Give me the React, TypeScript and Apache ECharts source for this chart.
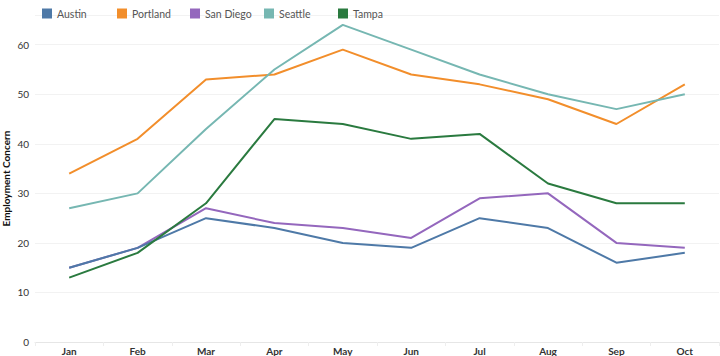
import React, { useEffect, useRef } from "react";
import * as echarts from "echarts";

const months = ["Jan", "Feb", "Mar", "Apr", "May", "Jun", "Jul", "Aug", "Sep", "Oct"];
const cities = ["Austin", "Portland", "San Diego", "Seattle", "Tampa"];
const austin = [15, 19, 25, 23, 20, 19, 25, 23, 16, 18];
const portland = [34, 41, 53, 54, 59, 54, 52, 49, 44, 52];
const sanDiego = [15, 19, 27, 24, 23, 21, 29, 30, 20, 19];
const seattle = [27, 30, 43, 55, 64, 59, 54, 50, 47, 50];
const tampa = [13, 18, 28, 45, 44, 41, 42, 32, 28, 28];
const colors = ["#4e79a7", "#f28e2b", "#9467bd", "#76b7b2", "#2a7a3f"];
const legendLefts = [37, 112, 185, 259, 333];

export default function App() {
  const ref = useRef<HTMLDivElement>(null);
  useEffect(() => {
    if (!ref.current) return;
    const chart = echarts.init(ref.current, null, { renderer: "svg" });
    const values = [austin, portland, sanDiego, seattle, tampa];
    chart.setOption({
      animation: false,
      textStyle: { fontFamily: "Lato" },
      legend: cities.map((c, i) => ({
        data: [c],
        left: legendLefts[i],
        top: 3,
        icon: "rect",
        itemWidth: 10,
        itemHeight: 10,
        itemGap: 4,
        textStyle: { color: "#555", fontSize: 10.5, fontFamily: "Lato" },
      })),
      grid: {
        left: 35,
        right: 1,
        top: 15,
        bottom: 14,
        containLabel: false,
        outerBoundsMode: "none",
      },
      xAxis: {
        type: "category",
        data: months,
        boundaryGap: true,
        axisLine: { lineStyle: { color: "#e6e6e6" } },
        axisTick: { show: true, length: 4, lineStyle: { color: "#eeeeee" } },
        axisLabel: { color: "#333", fontSize: 10, fontWeight: "bold", margin: 4 },
      },
      yAxis: {
        type: "value",
        min: 0,
        max: 66,
        interval: 10,
        name: "Employment Concern",
        nameLocation: "middle",
        nameGap: 24,
        nameMoveOverlap: false,
        nameTextStyle: { color: "#111", fontSize: 10, fontWeight: "bold" },
        axisLine: { show: false },
        axisTick: { show: false },
        axisLabel: { color: "#333", fontSize: 10, showMaxLabel: false, margin: 6 },
        splitLine: { lineStyle: { color: "#f2f2f2" } },
      },
      series: cities.map((c, i) => ({
        name: c,
        type: "line",
        data: values[i],
        showSymbol: false,
        symbol: "none",
        color: colors[i],
        lineStyle: { width: 2, color: colors[i] },
        z: i === 2 ? 1 : 2,
      })),
    });
    return () => chart.dispose();
  }, []);
  return (
    <div
      ref={ref}
      style={{ position: "absolute", left: 0, top: 0, width: 720, height: 356 }}
    />
  );
}
